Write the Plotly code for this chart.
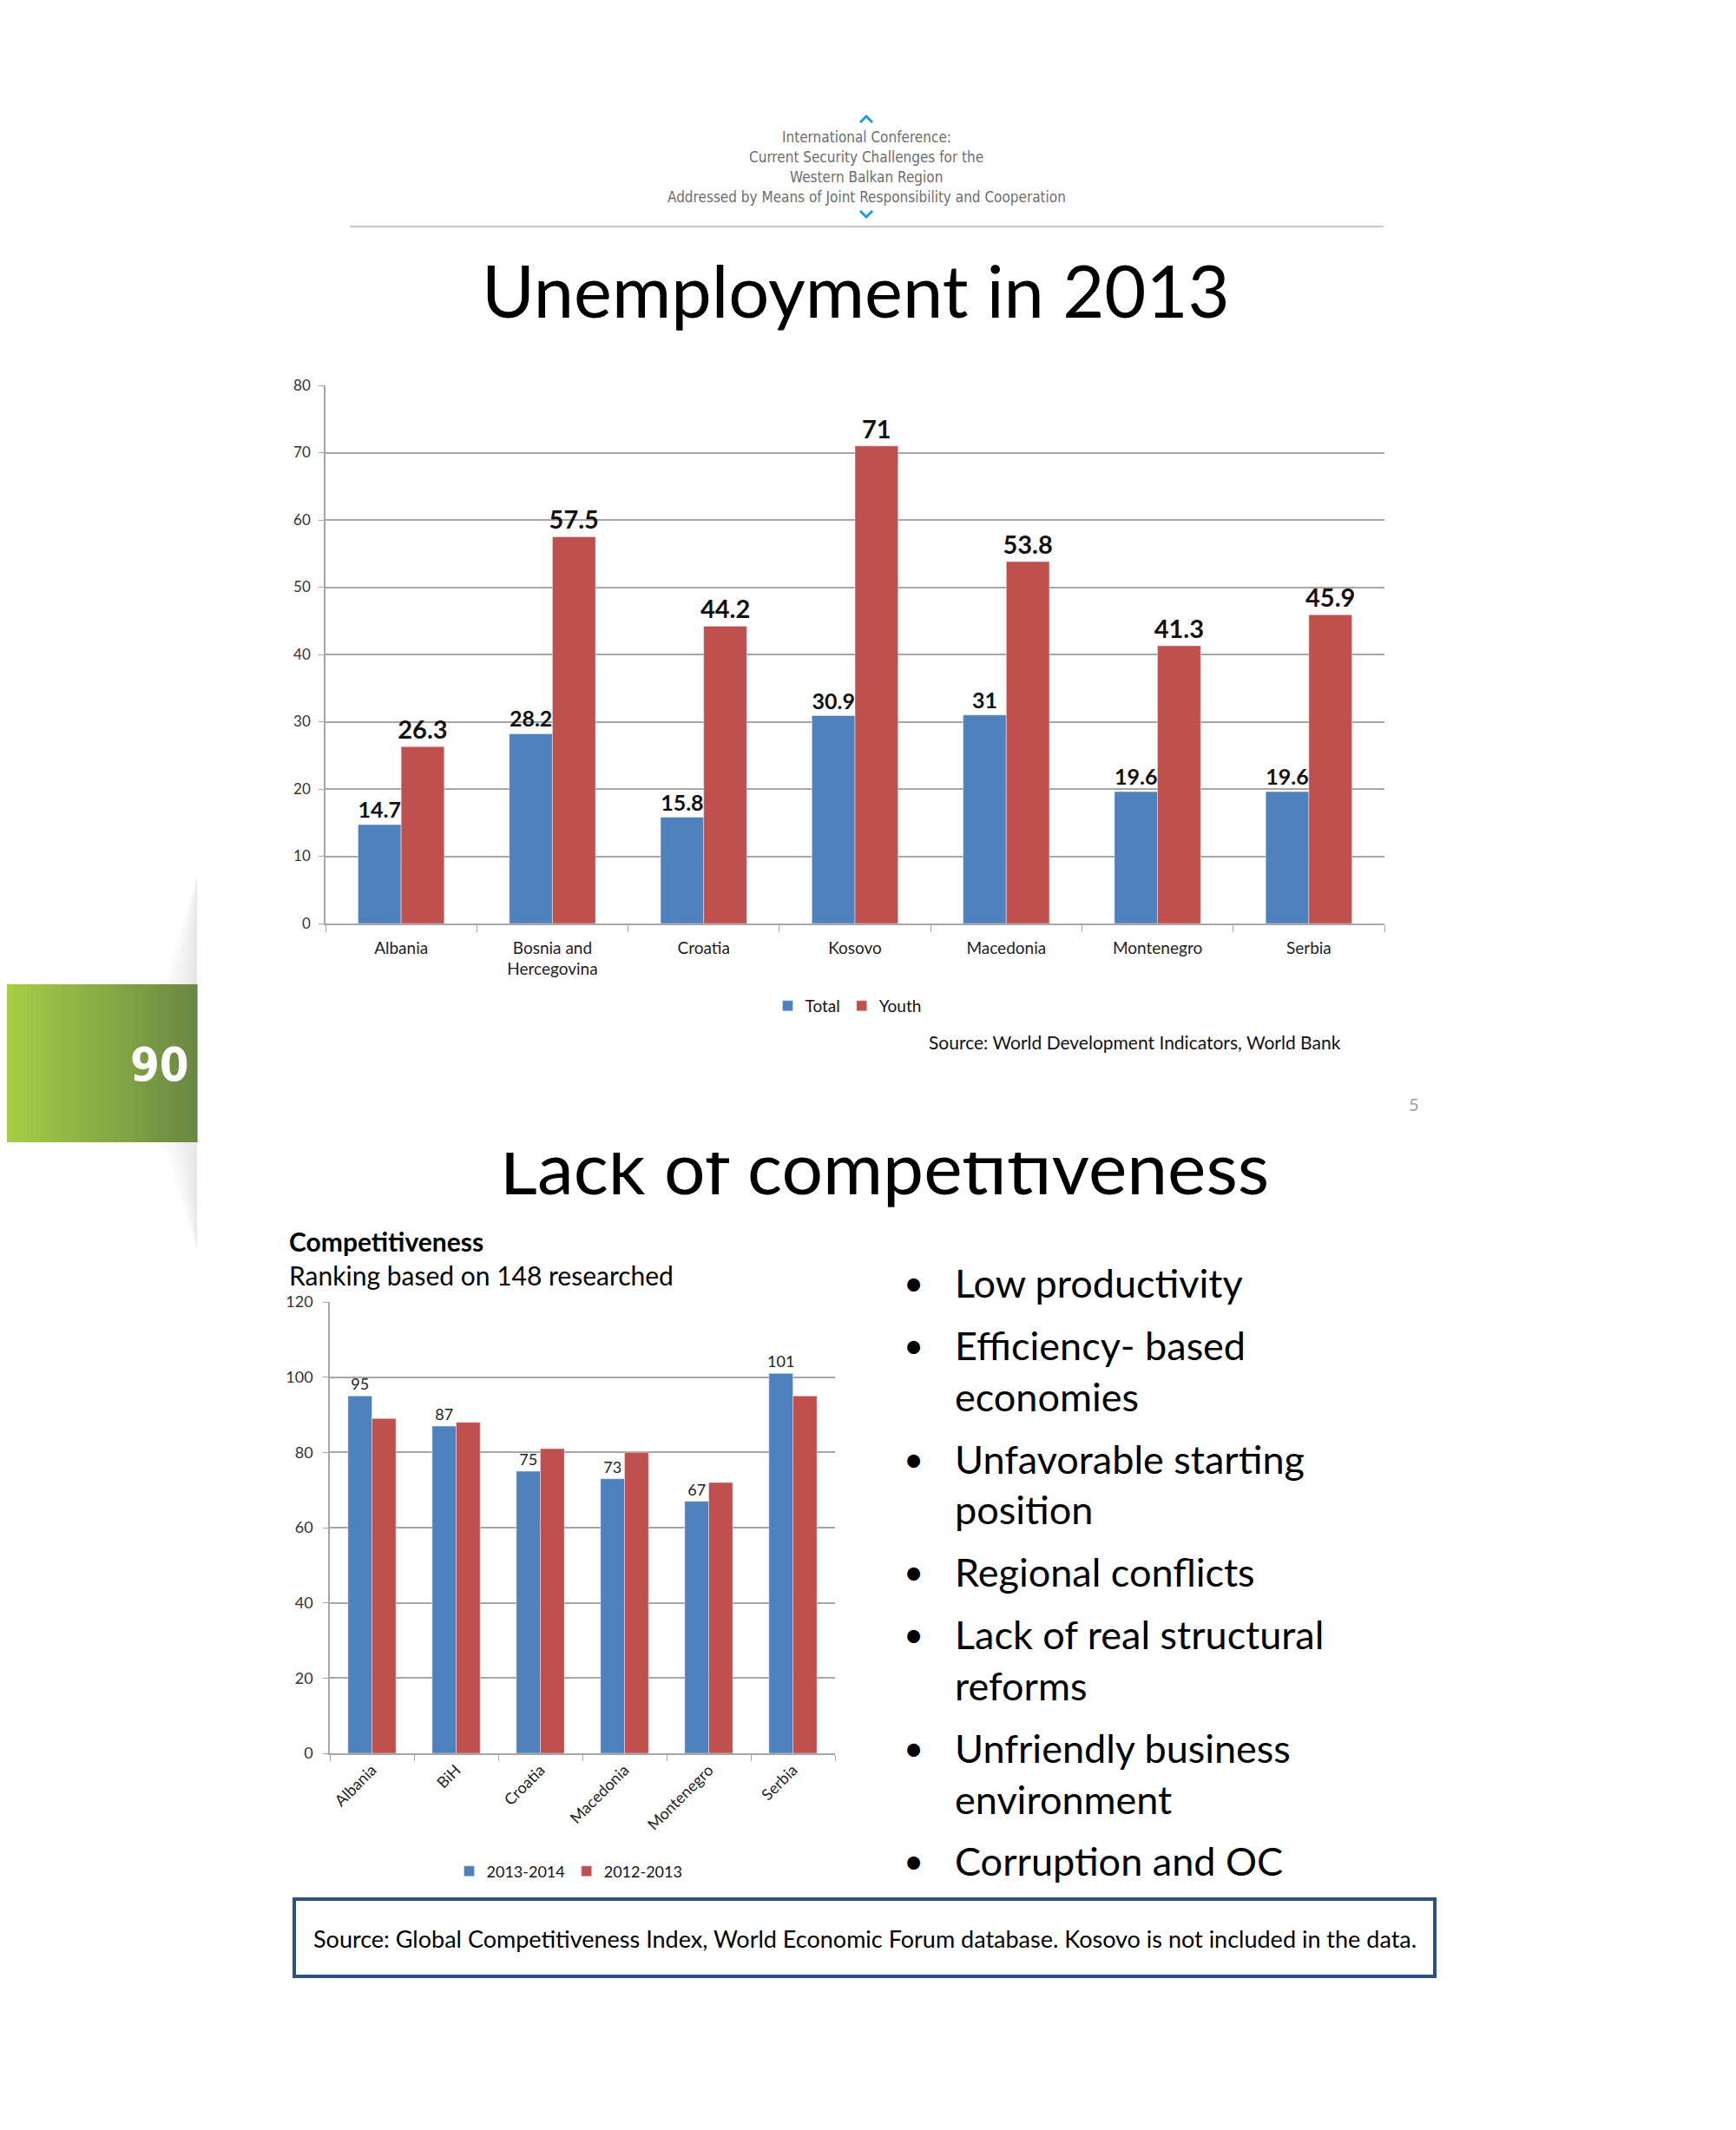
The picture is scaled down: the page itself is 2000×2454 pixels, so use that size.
import plotly.graph_objects as go

W, H = 2000, 2454
OFF = 8  # page body margin of the html page

# ---------------- data ----------------
countries1 = ["Albania", "Bosnia and<br>Hercegovina", "Croatia", "Kosovo", "Macedonia", "Montenegro", "Serbia"]
total = [14.7, 28.2, 15.8, 30.9, 31, 19.6, 19.6]
youth = [26.3, 57.5, 44.2, 71, 53.8, 41.3, 45.9]
y1_ticks = [0, 10, 20, 30, 40, 50, 60, 70, 80]

countries2 = ["Albania", "BiH", "Croatia", "Macedonia", "Montenegro", "Serbia"]
rank_2013_2014 = [95, 87, 75, 73, 67, 101]
rank_2012_2013 = [89, 88, 81, 80, 72, 95]
y2_ticks = [0, 20, 40, 60, 80, 100, 120]

bullets = [
    ["Low productivity"],
    ["Efficiency- based", "economies"],
    ["Unfavorable starting", "position"],
    ["Regional conflicts"],
    ["Lack of real structural", "reforms"],
    ["Unfriendly business", "environment"],
    ["Corruption and OC"],
]

header_lines = [
    "International Conference:",
    "Current Security Challenges for the",
    "Western Balkan Region",
    "Addressed by Means of Joint Responsibility and Cooperation",
]

BLUE = "#4F81BD"
RED = "#C0504D"
GRID = "#A6A6A6"
FONT = "Lato"
NARROW = "DejaVu Sans Condensed, Liberation Sans"


def px(x):
    return (x - OFF) / W


def py(y):
    return 1 - (y - OFF) / H


def note(text, x, y, size, color="#000000", family=FONT, xanchor="center", yanchor="middle", **kw):
    return dict(text=text, x=px(x), y=py(y), xref="paper", yref="paper", showarrow=False,
                xanchor=xanchor, yanchor=yanchor,
                font=dict(family=family, size=size, color=color, **kw))


fig = go.Figure()

# ---------------- chart 1 ----------------
fig.add_trace(go.Bar(
    x=countries1, y=total, name="Total", marker_color=BLUE,
    text=[f"{v:g}" for v in total], textposition="outside", constraintext="none",
    textfont=dict(family=FONT, size=25, color="#111111", weight="bold"),
    cliponaxis=False, xaxis="x", yaxis="y", legend="legend",
))
fig.add_trace(go.Bar(
    x=countries1, y=youth, name="Youth", marker_color=RED,
    text=[f"{v:g}" for v in youth], textposition="outside", constraintext="none",
    textfont=dict(family=FONT, size=29, color="#111111", weight="bold"),
    cliponaxis=False, xaxis="x", yaxis="y", legend="legend",
))

# ---------------- chart 2 ----------------
fig.add_trace(go.Bar(
    x=countries2, y=rank_2013_2014, name="2013-2014", marker_color=BLUE,
    text=[str(v) for v in rank_2013_2014], textposition="outside", constraintext="none",
    textfont=dict(family=FONT, size=18, color="#222222"),
    cliponaxis=False, xaxis="x2", yaxis="y2", legend="legend2",
))
fig.add_trace(go.Bar(
    x=countries2, y=rank_2012_2013, name="2012-2013", marker_color=RED,
    xaxis="x2", yaxis="y2", legend="legend2",
))

# second slide title (drawn as a text trace so the page edge can crop its top)
fig.add_trace(go.Scatter(
    x=[px(1019)], y=[py(1355)], mode="text", text=["Lack of competitiveness"],
    textposition="middle center", textfont=dict(family=FONT, size=84, color="#000000"),
    xaxis="x3", yaxis="y3", showlegend=False, hoverinfo="skip", cliponaxis=False,
))

axis_common = dict(showline=True, linecolor=GRID, linewidth=1.5, ticks="outside",
                   tickcolor=GRID, zeroline=False, automargin=False)

shapes = []
annotations = []

# green page band with gradient
c0 = (168, 207, 69)
c1 = (107, 136, 68)
n = 45
bx0, bx1, by0, by1 = 0, 227, 1134, 1316
for i in range(n):
    t = i / (n - 1)
    col = tuple(int(round(c0[k] + (c1[k] - c0[k]) * t)) for k in range(3))
    shapes.append(dict(type="rect", xref="paper", yref="paper",
                       x0=px(bx0 + (bx1 - bx0) * i / n) if i else -0.01,
                       x1=px(bx0 + (bx1 - bx0) * (i + 1) / n + 0.6),
                       y0=py(by1), y1=py(by0), fillcolor=f"rgb{col}", line_width=0, layer="below"))

# soft shadows above and below band
for k in range(8):
    a = 0.022
    w = 40 * (1 - k / 8)
    shapes.append(dict(type="path", xref="paper", yref="paper",
                       path=f"M {px(227)},{py(1010)} L {px(227)},{py(1134)} L {px(227 - w)},{py(1134)} Z",
                       fillcolor=f"rgba(110,110,110,{a})", line_width=0, layer="below"))
    shapes.append(dict(type="path", xref="paper", yref="paper",
                       path=f"M {px(227)},{py(1440)} L {px(227)},{py(1316)} L {px(227 - w)},{py(1316)} Z",
                       fillcolor=f"rgba(110,110,110,{a})", line_width=0, layer="below"))

# page edge that crops the top of the second title
shapes.append(dict(type="rect", xref="paper", yref="paper", x0=px(540), x1=px(1500),
                   y0=py(1328), y1=py(1280), fillcolor="white", line_width=0, layer="above"))

annotations.append(note("<b>90</b>", 184, 1226, 54, color="white", family=NARROW))

# header chevrons
shapes.append(dict(type="path", xref="paper", yref="paper",
                   path=f"M {px(991)},{py(141)} L {px(998)},{py(134)} L {px(1005)},{py(141)}",
                   line=dict(color="#1B9BD7", width=3)))
shapes.append(dict(type="path", xref="paper", yref="paper",
                   path=f"M {px(991)},{py(243)} L {px(998)},{py(250)} L {px(1005)},{py(243)}",
                   line=dict(color="#1B9BD7", width=3)))
for i, line in enumerate(header_lines):
    annotations.append(note(line, 998, 158 + i * 23, 17, color="#6d6d6d", family=NARROW))
shapes.append(dict(type="line", xref="paper", yref="paper", x0=px(403), x1=px(1594), y0=py(261), y1=py(261),
                   line=dict(color="#C8C8C8", width=2)))

# title 1
annotations.append(note("Unemployment in 2013", 986, 334, 83))

# source 1 and page number
annotations.append(note("Source: World Development Indicators, World Bank", 1547, 1200, 21,
                        color="#111111", xanchor="right"))
annotations.append(note("5", 1629, 1272, 20, color="#9a9a9a"))

# chart 2 headings
annotations.append(note("<b>Competitiveness</b>", 331, 1430, 30, xanchor="left"))
annotations.append(note("Ranking based on 148 researched", 331, 1469, 30, xanchor="left"))

# bullets
ypos = [[1478], [1550, 1609], [1681, 1739], [1811], [1883, 1942], [2014, 2073], [2144]]
for item, ys in zip(bullets, ypos):
    annotations.append(note("•", 1052, ys[0], 40))
    for line, yy in zip(item, ys):
        annotations.append(note(line, 1098, yy, 45, xanchor="left"))

# source box
shapes.append(dict(type="rect", xref="paper", yref="paper", x0=px(339), x1=px(1653), y0=py(2277), y1=py(2188),
                   line=dict(color="#2E4F80", width=4), fillcolor="rgba(0,0,0,0)"))
annotations.append(note("Source: Global Competitiveness Index, World Economic Forum database. Kosovo is not included in the data.",
                        996, 2233, 27))

fig.update_layout(
    width=W, height=H,
    margin=dict(l=0, r=0, t=0, b=0),
    paper_bgcolor="white", plot_bgcolor="rgba(0,0,0,0)",
    barmode="group", bargap=0.43, bargroupgap=0,
    font=dict(family=FONT, color="#222222"),
    xaxis=dict(domain=[px(375), px(1595)], anchor="y", type="category", tickson="boundaries", ticklen=8,
               ticklabelstandoff=10, tickfont=dict(size=19, color="#222222"), **axis_common),
    yaxis=dict(domain=[py(1064), py(444)], anchor="x", range=[0, 80], tickvals=y1_ticks, ticklen=6,
               ticklabelstandoff=6,
               showgrid=True, gridcolor=GRID, gridwidth=1.5, tickfont=dict(size=17, color="#333333"),
               **axis_common),
    xaxis2=dict(domain=[px(380), px(962)], anchor="y2", type="category", tickson="boundaries", ticklen=7,
                tickangle=-45, tickfont=dict(size=18, color="#222222"), **axis_common),
    yaxis2=dict(domain=[py(2020), py(1500)], anchor="x2", range=[0, 120], tickvals=y2_ticks, ticklen=6,
                ticklabelstandoff=8,
                showgrid=True, gridcolor=GRID, gridwidth=1.5, tickfont=dict(size=18, color="#333333"),
                **axis_common),
    xaxis3=dict(domain=[0, 1], range=[0, 1], visible=False, fixedrange=True),
    yaxis3=dict(domain=[0, 1], range=[0, 1], visible=False, fixedrange=True, anchor="x3"),
    legend=dict(orientation="h", x=px(977), y=py(1159), xanchor="center", yanchor="middle",
                font=dict(size=19, color="#111111"), itemwidth=30, bgcolor="rgba(0,0,0,0)"),
    legend2=dict(orientation="h", x=px(656), y=py(2156), xanchor="center", yanchor="middle",
                 font=dict(size=18, color="#111111"), itemwidth=30, bgcolor="rgba(0,0,0,0)"),
    shapes=shapes,
    annotations=annotations,
)

fig.write_html("out.html")
